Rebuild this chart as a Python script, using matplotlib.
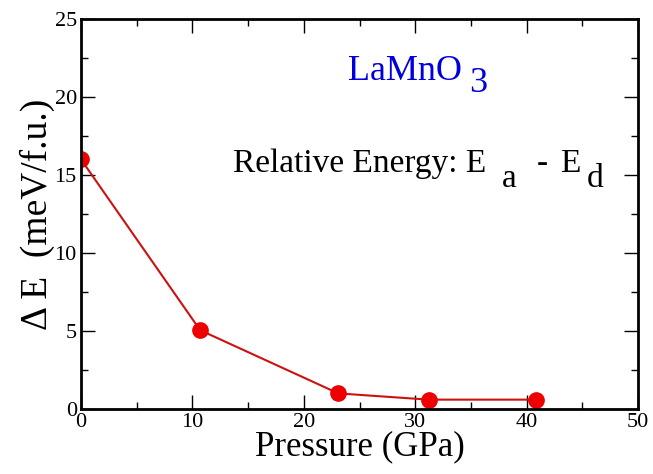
import numpy as np
import matplotlib.pyplot as plt
from matplotlib.ticker import MultipleLocator

# Dados
pressure = [0.0, 10.7, 23.1, 31.2, 40.8]
delta_E = [16.0, 5.05, 1.0, 0.6, 0.6]

plt.rcParams['font.family'] = ['Liberation Serif', 'DejaVu Serif']

W, H = 653, 474
fig = plt.figure(figsize=(W/100, H/100), dpi=100)
ax = fig.add_axes([81/W, 1-409/H, (638-81)/W, (409-19)/H])

ax.plot(pressure, delta_E, color='#cc1111', linewidth=1.5,
        marker='o', markersize=11, markerfacecolor='#ee0000', markeredgecolor='#ee0000')

ax.set_xlim(0, 50)
ax.set_ylim(0, 25)
ax.xaxis.set_major_locator(MultipleLocator(10))
ax.xaxis.set_minor_locator(MultipleLocator(5))
ax.yaxis.set_major_locator(MultipleLocator(5))
ax.yaxis.set_minor_locator(MultipleLocator(2.5))
ax.tick_params(which='both', direction='in', top=True, right=True, labelsize=16, width=1)
ax.tick_params(which='major', length=10, pad=3)
ax.tick_params(which='minor', length=5)
for s in ax.spines.values():
    s.set_linewidth(2)

ax.set_xlabel('Pressure (GPa)', fontsize=25, labelpad=-1)
ax.set_ylabel('Δ E  (meV/f.u.)', fontsize=27, labelpad=0)

# textos com subscritos em tamanho normal, apenas rebaixados
def txt(x, y, s, **kw):
    fig.text(x/W, 1-y/H, s, ha='left', va='baseline', **kw)

txt(348, 80, 'LaMnO', color='#0000dd', fontsize=26)
txt(469, 92, '3', color='#0000dd', fontsize=26)
txt(233, 172, 'Relative Energy: E', fontsize=24)
txt(502, 187, 'a', fontsize=24)
txt(537, 172, '-', fontsize=24)
txt(560, 172, 'E', fontsize=24)
txt(587, 187, 'd', fontsize=24)

plt.savefig('out.png', dpi=100)
